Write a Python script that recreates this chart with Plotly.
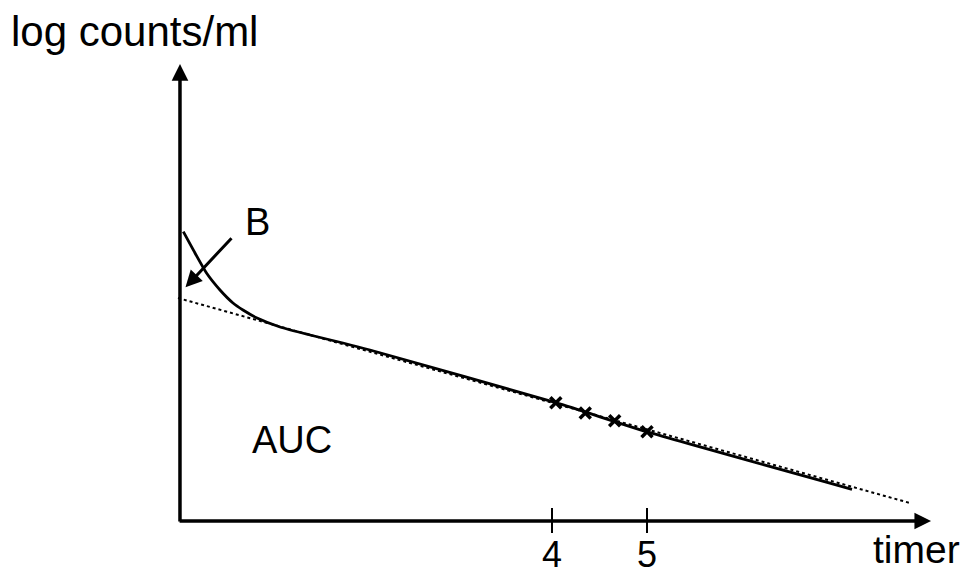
import plotly.graph_objects as go

# ---- data (time units, log counts/ml units) ----
curve_time = [0.119, 0.242, 0.365, 0.505, 0.642, 0.747, 0.895, 1.137, 1.453, 1.80, 2.084, 4.04, 4.997, 7.158]
curve_logc = [2.883, 2.67, 2.467, 2.30, 2.17, 2.10, 2.02, 1.93, 1.85, 1.77, 1.70, 1.173, 0.883, 0.307]

extrap_time = [0.063, 7.768]
extrap_logc = [2.22, 0.17]

sample_time = [4.04, 4.35, 4.66, 5.0]
sample_logc = [1.173, 1.07, 0.993, 0.883]

tick_values = [4, 5]
tick_labels = ["4", "5"]

axis_origin = (0.084, -0.01)
x_axis_end = 7.99
y_axis_end = 4.56

B_tail = (0.641, 2.833)
B_tip = (0.142, 2.327)

FONT = "Liberation Sans, Arial, sans-serif"

fig = go.Figure()

fig.add_trace(go.Scatter(x=extrap_time, y=extrap_logc, mode="lines",
                         line=dict(color="black", width=2, dash="dot"),
                         hoverinfo="skip", showlegend=False))
fig.add_trace(go.Scatter(x=curve_time, y=curve_logc, mode="lines",
                         line=dict(color="black", width=2.8, shape="spline", smoothing=0.6),
                         hoverinfo="skip", showlegend=False))
fig.add_trace(go.Scatter(x=sample_time, y=sample_logc, mode="markers",
                         marker=dict(symbol="x-thin", size=11, line=dict(color="black", width=3.5)),
                         hoverinfo="skip", showlegend=False))

# tick marks crossing the x axis
for tv, tl in zip(tick_values, tick_labels):
    fig.add_shape(type="line", x0=tv, x1=tv, y0=axis_origin[1] - 0.12, y1=axis_origin[1] + 0.13,
                  line=dict(color="black", width=2))
    fig.add_annotation(x=tv, y=-0.345, text=tl, showarrow=False, xref="x", yref="y",
                       font=dict(family=FONT, size=36, color="black"), xanchor="center", yanchor="middle")

# axes with arrows
fig.add_annotation(x=x_axis_end, y=axis_origin[1], ax=axis_origin[0] - 0.02, ay=axis_origin[1],
                   xref="x", yref="y", axref="x", ayref="y", text="", showarrow=True,
                   arrowhead=2, arrowsize=0.95, arrowwidth=3.5, arrowcolor="black")
fig.add_annotation(x=axis_origin[0], y=y_axis_end, ax=axis_origin[0], ay=axis_origin[1] - 0.02,
                   xref="x", yref="y", axref="x", ayref="y", text="", showarrow=True,
                   arrowhead=2, arrowsize=0.95, arrowwidth=3.5, arrowcolor="black")

# B arrow
fig.add_annotation(x=B_tip[0], y=B_tip[1], ax=B_tail[0], ay=B_tail[1],
                   xref="x", yref="y", axref="x", ayref="y", text="", showarrow=True,
                   arrowhead=2, arrowsize=1.1, arrowwidth=3, arrowcolor="black")

fig.add_annotation(x=0.905, y=2.98, text="B", showarrow=False, xref="x", yref="y",
                   font=dict(family=FONT, size=38, color="black"), xanchor="center", yanchor="middle")
fig.add_annotation(x=1.26, y=0.80, text="AUC", showarrow=False, xref="x", yref="y",
                   font=dict(family=FONT, size=38, color="black"), xanchor="center", yanchor="middle")
fig.add_annotation(x=-1.716, y=4.89, text="log counts/ml", showarrow=False, xref="x", yref="y",
                   font=dict(family=FONT, size=42, color="black"), xanchor="left", yanchor="middle")
fig.add_annotation(x=8.316, y=-0.53, text="timer", showarrow=False, xref="x", yref="y",
                   font=dict(family=FONT, size=39, color="black"), xanchor="right", yanchor="bottom")

fig.update_layout(
    width=970, height=574,
    margin=dict(l=0, r=0, t=0, b=0),
    paper_bgcolor="white", plot_bgcolor="white",
    xaxis=dict(range=[4 - 552 / 95, 4 + 418 / 95], visible=False, fixedrange=True),
    yaxis=dict(range=[-0.54, 5.20], visible=False, fixedrange=True),
    showlegend=False,
)

# remove the default 8px page margin so the 970x574 figure fills the window exactly
fig.write_html("out.html", config={"displayModeBar": False},
               post_script="document.body.style.margin='0';document.body.style.overflow='hidden';")
